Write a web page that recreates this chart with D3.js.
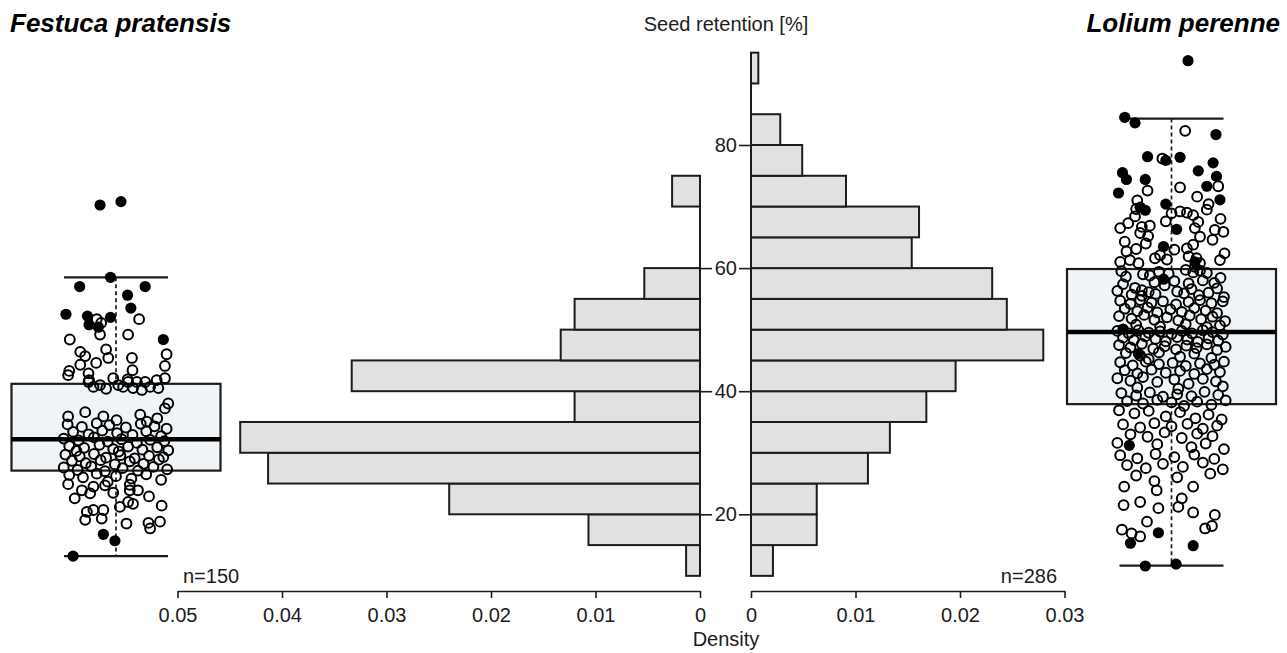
<!DOCTYPE html>
<html>
<head>
<meta charset="utf-8">
<script src="https://cdn.jsdelivr.net/npm/d3@7"></script>
<style>
  html, body { margin: 0; padding: 0; background: #ffffff; }
  svg { display: block; font-family: "Liberation Sans", Arial, Helvetica, sans-serif; }
</style>
</head>
<body>
<svg id="chart" width="1287" height="653"></svg>
<script>
// ---------- data ----------
const speciesNames = ["Festuca pratensis", "Lolium perenne"];
const sampleSizes = [150, 286];

// histogram bins of seed retention (%), width 5
const binWidth = 5;
const festucaBinStarts = [10, 15, 20, 25, 30, 35, 40, 45, 50, 55, 60, 65, 70];
const festucaDensity   = [0.00133, 0.01067, 0.024, 0.04133, 0.044, 0.012, 0.03333, 0.01333, 0.012, 0.00533, 0, 0, 0.00267];
const loliumBinStarts  = [10, 15, 20, 25, 30, 35, 40, 45, 50, 55, 60, 65, 70, 75, 80, 85, 90];
const loliumDensity    = [0.0021, 0.00629, 0.00629, 0.01119, 0.01329, 0.01678, 0.01958, 0.02797, 0.02448, 0.02308, 0.01538, 0.01608, 0.00909, 0.0049, 0.0028, 0, 0.0007];

// tick labels
const retentionTicks = [20, 40, 60, 80];
const festucaRetentionTicks = [20, 40, 60];
const festucaDensityTicks = [0, 0.01, 0.02, 0.03, 0.04, 0.05];
const loliumDensityTicks = [0, 0.01, 0.02, 0.03];

// box plot statistics: lower whisker, Q1, median, Q3, upper whisker
const festucaStats = [13.2, 27.1, 32.2, 41.2, 58.5];
const loliumStats  = [11.65, 37.9, 49.6, 59.85, 84.3];

// individual samples: [horizontal jitter (-1..1), seed retention %]
const festucaFilled = [
  [-0.29,70.25],[0.09,70.8],[-0.10,58.5],[-0.66,57.0],[0.53,57.0],[0.21,55.6],
  [0.27,53.5],[-0.91,52.5],[-0.52,52.2],[-0.10,52.0],[-0.49,50.8],[-0.32,50.4],
  [0.86,48.4],[-0.23,16.75],[-0.02,15.7],[-0.78,13.2]
];
const festucaOpen = [
  // 50-55
  [-0.35,51.7],[0.42,51.7],[-0.27,51.1],
  // 45-50
  [0.22,49.2],[-0.84,48.4],[-0.65,46.4],[-0.56,45.7],[-0.18,46.8],[0.92,46.0],[-0.29,49.2],[0.29,45.4],[-0.14,45.4],
  // 40-45
  [0.89,44.1],[-0.65,44.3],[-0.36,44.6],[-0.85,43.3],[-0.5,42.9],[0.3,43.4],[0.21,41.9],[-0.49,41.8],
  [-0.87,42.6],[-0.5,41.5],[-0.41,40.7],[-0.29,41.0],[-0.18,40.4],[0.04,41.0],[0.13,40.7],[0.22,41.5],
  [0.31,40.5],[0.38,41.5],[0.47,40.2],[0.53,41.5],[0.62,40.7],[0.74,41.8],[0.77,40.5],[0.89,42.1],[-0.05,42.1],
  // 35-40
  [-0.87,35.9],[-0.56,36.6],[0.44,36.2],[0.89,37.2],[0.95,38.0],[0.75,35.6],[-0.23,35.9],[0.01,35.3],[0.56,35.05],
  // 30-35
  [-0.88,34.6],[-0.62,34.2],[-0.35,34.8],[-0.12,34.5],[0.18,34.1],[0.45,34.7],[0.7,34.3],[0.92,33.9],
  [-0.78,33.4],[-0.5,33.0],[-0.25,33.6],[0.02,33.2],[0.3,32.9],[0.55,33.5],[0.82,32.7],
  [-0.95,32.3],[-0.68,32.0],[-0.4,32.5],[-0.15,31.8],[0.1,32.2],[0.38,31.6],[0.62,32.1],[0.88,31.9],
  [-0.85,31.1],[-0.58,30.8],[-0.3,31.3],[-0.05,30.6],[0.22,31.0],[0.48,30.5],[0.75,30.9],
  [-0.72,30.3],[0.05,30.2],[0.95,30.4],
  // 25-30
  [-0.92,29.7],[-0.66,29.4],[-0.4,29.8],[-0.18,29.2],[0.08,29.6],[0.34,29.1],[0.6,29.5],[0.86,29.3],
  [-0.8,28.7],[-0.55,28.3],[-0.28,28.8],[-0.02,28.1],[0.25,28.6],[0.5,28.2],[0.78,28.9],
  [-0.95,27.6],[-0.7,27.2],[-0.45,27.8],[-0.2,27.0],[0.12,27.5],[0.4,27.1],[0.68,27.7],[0.93,27.3],
  [-0.85,26.4],[-0.6,26.0],[-0.35,26.6],[0.0,26.2],[0.28,25.8],[0.55,26.5],[0.82,25.6],[-0.15,25.3],
  // 20-25
  [-0.87,24.9],[-0.62,23.9],[-0.41,24.5],[-0.2,24.7],[0.25,24.8],[0.25,23.9],[0.4,23.9],[-0.47,23.4],[0.22,22.0],
  [0.31,21.7],[0.07,21.2],[-0.53,20.4],[-0.41,20.7],[-0.23,20.7],[0.83,21.4],[-0.75,22.6],[0.6,22.9],[-0.05,23.5],
  // 15-20
  [-0.26,19.3],[0.19,18.5],[0.59,18.6],[0.8,18.8],[0.62,17.7],[-0.56,19.1]
];

const loliumFilled = [
  [0.29,93.7],[-0.82,84.5],[-0.64,83.6],[0.78,81.7],[-0.42,78.1],[-0.1,77.5],[0.15,78.0],[0.73,77.1],
  [-0.86,75.5],[0.47,75.8],[-0.79,74.4],[-0.46,74.4],[-0.93,72.2],[0.79,74.9],[0.62,73.3],[0.85,71.1],
  [-0.1,70.4],[-0.55,69.9],[-0.46,69.4],[0.09,66.3],[-0.14,63.5],[0.41,61.0],[-0.14,58.2],[-0.85,50.1],
  [-0.58,46.1],[-0.74,31.2],[-0.23,17.0],[-0.72,15.3],[0.38,14.9],[-0.46,11.6],[0.08,11.9]
];
const loliumOpen = [
  // 75-85
  [0.24,82.3],[-0.16,77.8],
  // 70-75
  [0.15,73.1],[0.82,73.3],[-0.6,71.0],[-0.42,72.6],[0.45,71.6],[0.65,70.4],
  // 65-70
  [0.0,68.9],[0.15,69.2],[0.27,69.0],[0.38,68.6],[0.47,67.5],[0.41,66.5],[0.5,65.1],[0.91,65.9],[0.76,66.2],[-0.9,66.5],
  [-0.76,67.3],[-0.52,66.7],[-0.38,66.9],[-0.64,68.4],[-0.55,65.7],[-0.41,65.2],[-0.62,69.6],[0.86,68.0],[-0.1,67.6],[0.62,69.5],
  // 60-65
  [-0.82,64.3],[-0.79,62.7],[-0.73,61.3],[-0.9,61.0],[-0.29,61.6],[-0.2,62.1],[0.27,63.2],[0.38,63.8],[0.3,61.9],[0.44,61.6],
  [0.5,60.8],[0.41,60.2],[0.85,61.3],[-0.08,61.4],[-0.58,60.8],[0.72,64.6],[-0.45,64.0],[0.05,63.0],[0.93,62.4],[-0.62,63.1],
  // 55-60
  [-0.88,59.5],[-0.8,58.6],[-0.5,59.0],[-0.38,58.8],[-0.22,59.4],[-0.05,59.1],[0.25,59.7],[0.38,59.3],[0.5,59.6],[0.62,59.2],[0.86,58.4],[0.75,57.6],
  [-0.85,57.4],[-0.64,56.8],[-0.52,56.4],[-0.4,56.1],[-0.28,55.8],[-0.52,55.5],[-0.7,55.7],[0.1,56.2],[0.22,55.9],[0.35,56.6],[0.48,55.6],[0.65,56.0],
  [-0.95,56.3],[0.92,55.3],[-0.12,57.2],[0.05,57.9],[0.3,57.5],[0.55,58.0],[-0.3,57.7],[0.8,56.7],
  // 50-55
  [-0.9,54.7],[-0.72,54.2],[-0.55,54.8],[-0.35,54.4],[-0.15,54.6],[0.08,54.1],[0.3,54.5],[0.5,54.8],[0.7,54.3],[0.9,54.6],
  [-0.82,53.4],[-0.6,53.0],[-0.42,53.6],[-0.25,52.8],[-0.02,53.3],[0.18,52.9],[0.4,53.5],[0.6,53.1],[0.8,52.7],
  [-0.92,52.2],[-0.7,51.8],[-0.48,52.4],[-0.3,51.6],[-0.08,52.0],[0.12,51.5],[0.32,52.3],[0.52,51.7],[0.72,52.1],[0.94,51.4],
  [-0.62,50.8],[-0.2,50.5],[0.25,50.9],[0.62,50.4],[0.85,50.7],
  // 45-50
  [-0.95,49.8],[-0.75,49.4],[-0.58,49.9],[-0.4,49.5],[-0.2,49.7],[0.0,49.3],[0.18,49.8],[0.36,49.4],[0.55,49.9],[0.72,49.6],[0.9,49.2],
  [-0.85,48.7],[-0.66,48.3],[-0.46,48.9],[-0.28,48.5],[-0.1,48.1],[0.1,48.8],[0.28,48.4],[0.46,48.0],[0.65,48.6],[0.82,48.2],
  [-0.92,47.5],[-0.72,47.1],[-0.52,47.7],[-0.32,46.9],[-0.12,47.3],[0.08,46.8],[0.26,47.4],[0.44,47.0],[0.62,47.6],[0.8,46.7],[0.95,47.2],
  [-0.8,46.2],[-0.55,45.8],[-0.22,46.3],[0.15,45.6],[0.4,46.1],[0.7,45.4],[-0.4,45.2],
  // 40-45
  [-0.9,44.7],[-0.68,44.2],[-0.45,44.8],[-0.22,44.4],[0.02,44.6],[0.25,44.1],[0.5,44.5],[0.75,44.3],[0.92,44.8],
  [-0.82,43.4],[-0.6,42.9],[-0.35,43.5],[-0.1,43.0],[0.15,43.3],[0.4,42.8],[0.62,43.6],[0.85,43.1],
  [-0.95,42.1],[-0.72,41.7],[-0.5,42.3],[-0.25,41.5],[0.05,41.9],[0.3,41.2],[0.55,42.0],[0.78,41.6],
  [-0.6,40.6],[0.12,40.4],[0.9,40.8],
  // 35-40
  [-0.88,39.7],[-0.62,39.3],[-0.38,39.8],[-0.15,39.1],[0.1,39.5],[0.35,39.2],[0.58,39.9],[0.82,39.4],
  [-0.78,38.4],[-0.5,38.0],[-0.25,38.6],[0.0,38.2],[0.22,37.6],[0.45,38.3],[0.7,37.8],[0.95,38.5],
  [-0.92,36.9],[-0.65,36.4],[-0.4,36.8],[-0.1,35.9],[0.15,36.6],[0.42,35.6],[0.65,36.2],[0.88,35.4],
  // 30-35
  [-0.85,34.6],[-0.55,34.1],[-0.3,34.8],[0.0,34.3],[0.28,34.7],[0.55,33.9],[0.8,34.4],
  [-0.72,33.0],[-0.42,32.6],[-0.12,33.3],[0.18,32.4],[0.45,33.1],[0.72,32.7],
  [-0.95,31.6],[-0.25,31.4],[0.35,30.9],[0.6,31.5],[0.92,30.6],
  // 25-30
  [-0.9,29.6],[-0.6,29.1],[-0.28,29.8],[0.05,29.3],[0.4,29.7],[0.75,29.0],
  [-0.78,28.0],[-0.45,27.5],[-0.15,28.2],[0.2,27.7],[0.55,28.4],[0.9,27.3],
  [-0.62,26.3],[0.1,26.0],[0.68,26.6],[-0.3,25.4],
  // 20-25
  [-0.83,24.5],[-0.26,23.9],[0.38,24.5],[-0.84,21.5],[-0.55,22.0],[-0.23,21.0],[0.18,22.6],[0.12,21.2],[0.38,20.3],
  // 15-20
  [-0.43,18.8],[-0.7,16.9],[-0.55,16.4],[0.76,19.9],[0.59,17.7],[0.71,18.1],[-0.87,17.5]
];

// ---------- layout ----------
const svg = d3.select("#chart");
const ink = "#1c1c1c";
const barFill = "#e0e1e0";
const boxFill = "#f0f4f7";
const fontSize = 20;
const fontFamily = "'Liberation Sans', Arial, sans-serif";

// shared vertical scale: seed retention (%)
const y = d3.scaleLinear().domain([20, 80]).range([514.3, 145]);

// density scales (left histogram grows leftwards)
const xLeft = d3.scaleLinear().domain([0, 0.05]).range([700, 177.5]);
const xRight = d3.scaleLinear().domain([0, 0.03]).range([751, 1064.5]);

// jitter scales for the two strip/box plots
const jitterLeft = d3.scaleLinear().domain([-1, 1]).range([116 - 55, 116 + 55]);
const jitterRight = d3.scaleLinear().domain([-1, 1]).range([1171.5 - 57, 1171.5 + 57]);

// ---------- histograms ----------
function drawHist(starts, dens, xs) {
  const data = starts.map((s, i) => ({ s, d: dens[i] })).filter(d => d.d > 0);
  const g = svg.append("g");
  g.selectAll("rect").data(data).join("rect")
    .attr("x", d => Math.min(xs(0), xs(d.d)))
    .attr("width", d => Math.abs(xs(d.d) - xs(0)))
    .attr("y", d => y(d.s + binWidth))
    .attr("height", d => y(d.s) - y(d.s + binWidth))
    .attr("fill", barFill)
    .attr("stroke", ink)
    .attr("stroke-width", 2);
  // base line along the density origin, also through empty bins
  g.append("line")
    .attr("x1", xs(0)).attr("x2", xs(0))
    .attr("y1", y(d3.max(starts) + binWidth)).attr("y2", y(d3.min(starts)))
    .attr("stroke", ink).attr("stroke-width", 2);
}
drawHist(festucaBinStarts, festucaDensity, xLeft);
drawHist(loliumBinStarts, loliumDensity, xRight);

// ---------- vertical retention axis ----------
const yAxisR = d3.axisLeft(y).tickValues(retentionTicks).tickSize(12).tickSizeOuter(0).tickPadding(2);
const gYR = svg.append("g").attr("transform", `translate(${xRight(0)},0)`).call(yAxisR);
const yAxisL = d3.axisRight(y).tickValues(festucaRetentionTicks).tickSize(12).tickSizeOuter(0).tickFormat("");
const gYL = svg.append("g").attr("transform", `translate(${xLeft(0)},0)`).call(yAxisL);
[gYR, gYL].forEach(g => {
  g.select(".domain").remove();
  g.selectAll(".tick line").attr("stroke", ink).attr("stroke-width", 1.6);
  g.selectAll(".tick text").attr("font-size", fontSize).attr("fill", ink).attr("font-family", fontFamily);
});

// ---------- bottom density axes ----------
const axisY = 591;
function densityAxis(scale, ticks) {
  const ax = d3.axisBottom(scale).tickValues(ticks).tickSize(7).tickSizeOuter(0).tickPadding(10)
    .tickFormat(d => d === 0 ? "0" : d3.format(".2f")(d));
  const g = svg.append("g").attr("transform", `translate(0,${axisY})`).call(ax);
  g.select(".domain").attr("stroke", ink).attr("stroke-width", 1.6);
  g.selectAll(".tick line").attr("stroke", ink).attr("stroke-width", 1.6);
  g.selectAll(".tick text").attr("font-size", fontSize).attr("fill", ink).attr("font-family", fontFamily);
  return g;
}
densityAxis(xLeft, festucaDensityTicks);
densityAxis(xRight, loliumDensityTicks);

// ---------- box plots with samples ----------
function drawBox(stats, cx, jit, open, filled) {
  const [lo, q1, med, q3, hi] = stats;
  const halfBox = 104.5, halfCap = 52;
  const g = svg.append("g");
  // whiskers
  g.append("line").attr("x1", cx).attr("x2", cx).attr("y1", y(hi)).attr("y2", y(q3))
    .attr("stroke", ink).attr("stroke-width", 1.7).attr("stroke-dasharray", "4,3");
  g.append("line").attr("x1", cx).attr("x2", cx).attr("y1", y(q1)).attr("y2", y(lo))
    .attr("stroke", ink).attr("stroke-width", 1.7).attr("stroke-dasharray", "4,3");
  [lo, hi].forEach(v => {
    g.append("line").attr("x1", cx - halfCap).attr("x2", cx + halfCap).attr("y1", y(v)).attr("y2", y(v))
      .attr("stroke", ink).attr("stroke-width", 2.2);
  });
  // box
  g.append("rect").attr("x", cx - halfBox).attr("width", 2 * halfBox)
    .attr("y", y(q3)).attr("height", y(q1) - y(q3))
    .attr("fill", boxFill).attr("stroke", ink).attr("stroke-width", 2.2);
  g.append("line").attr("x1", cx - halfBox).attr("x2", cx + halfBox).attr("y1", y(med)).attr("y2", y(med))
    .attr("stroke", "#000").attr("stroke-width", 4.5);
  // samples
  g.append("g").selectAll("circle").data(open).join("circle")
    .attr("cx", d => jit(d[0])).attr("cy", d => y(d[1])).attr("r", 4.9)
    .attr("fill", "none").attr("stroke", "#000").attr("stroke-width", 2);
  g.append("g").selectAll("circle").data(filled).join("circle")
    .attr("cx", d => jit(d[0])).attr("cy", d => y(d[1])).attr("r", 5.6)
    .attr("fill", "#000");
}
drawBox(festucaStats, 116, jitterLeft, festucaOpen, festucaFilled);
drawBox(loliumStats, 1171.5, jitterRight, loliumOpen, loliumFilled);

// ---------- text ----------
svg.append("text").attr("x", 10).attr("y", 32).text(speciesNames[0])
  .attr("font-size", 26).attr("font-weight", "bold").attr("font-style", "italic").attr("fill", "#000");
svg.append("text").attr("x", 1280).attr("y", 32).attr("text-anchor", "end").text(speciesNames[1])
  .attr("font-size", 26).attr("font-weight", "bold").attr("font-style", "italic").attr("fill", "#000");
svg.append("text").attr("x", 726).attr("y", 31).attr("text-anchor", "middle").text("Seed retention [%]")
  .attr("font-size", fontSize).attr("fill", ink);
svg.append("text").attr("x", 726).attr("y", 646).attr("text-anchor", "middle").text("Density")
  .attr("font-size", fontSize).attr("fill", ink);
svg.append("text").attr("x", 183).attr("y", 583).text("n=" + sampleSizes[0])
  .attr("font-size", fontSize).attr("fill", ink);
svg.append("text").attr("x", 1057).attr("y", 583).attr("text-anchor", "end").text("n=" + sampleSizes[1])
  .attr("font-size", fontSize).attr("fill", ink);
</script>
</body>
</html>
